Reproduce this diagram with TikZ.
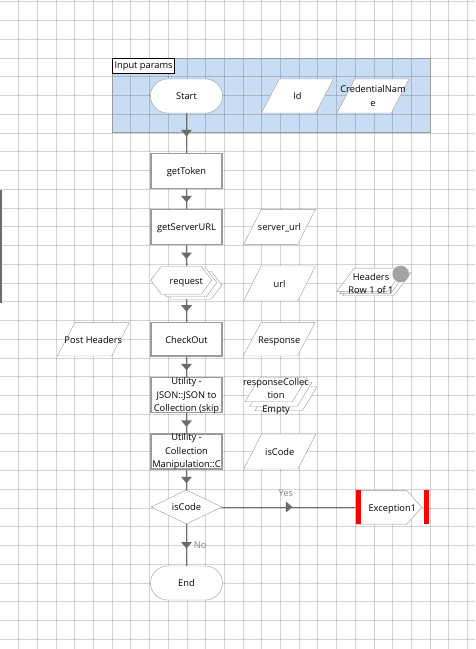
\documentclass[tikz,border=0pt]{standalone}
\usepackage{fontspec}
\setmainfont{Open Sans}
\usetikzlibrary{shapes.geometric,shapes.symbols,shapes.misc,shadows,decorations.markings}

\definecolor{linegray}{HTML}{6B6B6B}
\definecolor{shapegray}{HTML}{9B9B9B}
\definecolor{groupblue}{HTML}{C8DDF3}
\definecolor{labelgray}{HTML}{7A8494}
\definecolor{dotgray}{HTML}{A3A3A3}
\definecolor{exred}{HTML}{FF0000}

% text that does not change the size of its shape
\newcommand\boxtext[2][-3.5pt]{\makebox[0pt]{\smash{\raisebox{#1}{\begin{tabular}[c]{@{}c@{}}#2\end{tabular}}}}}

\pgfdeclarelayer{gridlayer}
\pgfdeclarelayer{flowlayer}
\pgfsetlayers{gridlayer,flowlayer,main}

\begin{document}
\begin{tikzpicture}[x=1pt,y=-1pt]
  \useasboundingbox (0,0) rectangle (475,649);
  \tikzset{
    every node/.style={font=\fontsize{9.3}{13.5}\selectfont, inner sep=0pt},
    terminal/.style={rounded rectangle, draw=shapegray, fill=white, minimum width=72, minimum height=34},
    process/.style={rectangle, draw=shapegray, line width=1.4pt, fill=white, minimum width=71, minimum height=35},
    data/.style={trapezium, trapezium left angle=64, trapezium right angle=116, trapezium stretches=true,
      inner sep=1pt, draw=shapegray, fill=white, minimum width=72, minimum height=34},
    decision/.style={diamond, inner sep=1pt, draw=shapegray, fill=white, minimum width=71, minimum height=34},
    prep/.style={signal, signal to=west and east, signal pointer angle=106, inner sep=1pt, draw=shapegray, fill=white,
      minimum width=61, minimum height=28},
    exception/.style={signal, signal to=east, signal pointer angle=96, inner sep=1pt, draw=shapegray, fill=white,
      minimum width=66, minimum height=33.5},
    layered/.style n args={4}{
      copy shadow={shadow xshift=#3,shadow yshift=#4,draw=shapegray,fill=white},
      copy shadow={shadow xshift=#1,shadow yshift=#2,draw=shapegray,fill=white}},
    grouplabel/.style={draw=black, fill=white, inner xsep=2pt, minimum height=15, anchor=north west},
    flowlabel/.style={text=labelgray},
    exbar/.style={fill=exred},
    % connectors
    flow/.style={draw=linegray, line width=0.9pt, postaction={decorate},
      decoration={markings, mark=at position 0.5 with {\fill[linegray] (3.5pt,0pt) -- (-3pt,5.5pt) -- (-3pt,-5.5pt) -- cycle;}}}
  }

  % Grid and group
  \begin{pgfonlayer}{gridlayer}
    \fill[groupblue] (112.3,58.3) rectangle (430,132.7);
    \foreach \gx in {1,...,25}
      \draw[black, opacity=0.17, line width=0.9pt] (18.7*\gx,0) -- (18.7*\gx,649);
    \foreach \gy in {0,...,34}
      \draw[black, opacity=0.17, line width=0.9pt] (0,1.7+18.75*\gy) -- (475,1.7+18.75*\gy);
    \draw[shapegray, line width=0.9pt] (112.3,58.3) rectangle (430,132.7);
    \draw[linegray, line width=1.5pt] (1,190) -- (1,303);
  \end{pgfonlayer}

  \node[grouplabel] (grplabel) at (112.3,58.3) {Input params};

  % Input params
  \node[terminal] (start) at (186.5,96) {\boxtext{Start}};
  \node[data] (id) at (297.5,96) {\boxtext{Id}};
  \node[data] (credname) at (373,96) {\boxtext[-3pt]{\makebox[0pt]{CredentialNam}\\e}};

  % Main column
  \node[process] (gettoken) at (186.5,170.8) {\boxtext{getToken}};
  \node[process] (getserverurl) at (186.5,226.8) {\boxtext{getServerURL}};
  \node[data, minimum height=35] (serverurl) at (279.5,226.8) {\boxtext{server\_url}};

  \node[prep, layered={5pt}{-2.5pt}{10pt}{-5pt}] (request) at (181.3,280.2) {\boxtext{\hspace*{10pt}request}};
  \node[data, minimum height=35] (url) at (279.5,283.5) {\boxtext{url}};
  \node[data, minimum width=68.6, minimum height=23.3, trapezium left angle=62, trapezium right angle=118,
    layered={3pt}{-2.2pt}{6pt}{-4.4pt}] (headers) at (371,279.7)
    {\boxtext[-7pt]{\makebox[0pt]{Headers}\\\makebox[0pt]{Row 1 of 1}}};
  \node[circle, fill=dotgray, minimum size=16.6] (headersdot) at (400.7,274) {};

  \node[data, minimum height=33.3] (postheaders) at (93.3,339.3) {\boxtext{Post Headers}};
  \node[process, minimum height=33.3] (checkout) at (186.5,339.3) {\boxtext{CheckOut}};
  \node[data, minimum height=33.3] (response) at (279.2,339.3) {\boxtext{Response}};

  \node[process] (jsontocoll) at (186.5,395.2) {\boxtext[-2.5pt]{Utility -\\JSON::JSON to\\Collection (skip}};
  \node[data, minimum width=62, minimum height=24, trapezium left angle=66, trapezium right angle=114,
    layered={5pt}{-4.5pt}{10pt}{-9pt}] (respcoll) at (276,389.7)
    {\boxtext[-8.5pt]{\makebox[0pt]{responseCollec}\\tion\\Empty}};

  \node[process] (collmanip) at (186.5,451.5) {\boxtext[-2.5pt]{Utility -\\Collection\\Manipulation::C}};
  \node[data, minimum height=35] (iscodevar) at (279.8,451.5) {\boxtext{isCode}};

  \node[decision] (iscode) at (186.5,507) {\boxtext{isCode}};
  \node[exception] (exception1) at (381.3,507.3) {\boxtext{\hspace*{22pt}Exception1}};
  \fill[exbar] (exception1.north west) rectangle ([xshift=5.7pt]exception1.south west);
  \fill[exbar] ([xshift=1.6pt]exception1.east |- exception1.north) rectangle ([xshift=6.6pt]exception1.east |- exception1.south);

  \node[terminal] (end) at (186.5,583) {\boxtext{End}};

  % Connectors
  \begin{pgfonlayer}{flowlayer}
    \draw[flow] (start) -- (gettoken);
    \draw[flow] (gettoken) -- (getserverurl);
    \draw[flow] (getserverurl) -- (getserverurl |- request.north);
    \draw[flow] (checkout |- request.south) -- (checkout);
    \draw[flow] (checkout) -- (jsontocoll);
    \draw[flow] (jsontocoll) -- (collmanip);
    \draw[flow] (collmanip) -- (iscode);
    \draw[flow] (iscode) -- node[flowlabel, above=10pt, xshift=-3pt] {Yes} (exception1.west |- iscode);
    \draw[flow] (iscode) -- node[flowlabel, right=7pt] {No} (end);
  \end{pgfonlayer}
\end{tikzpicture}
\end{document}
